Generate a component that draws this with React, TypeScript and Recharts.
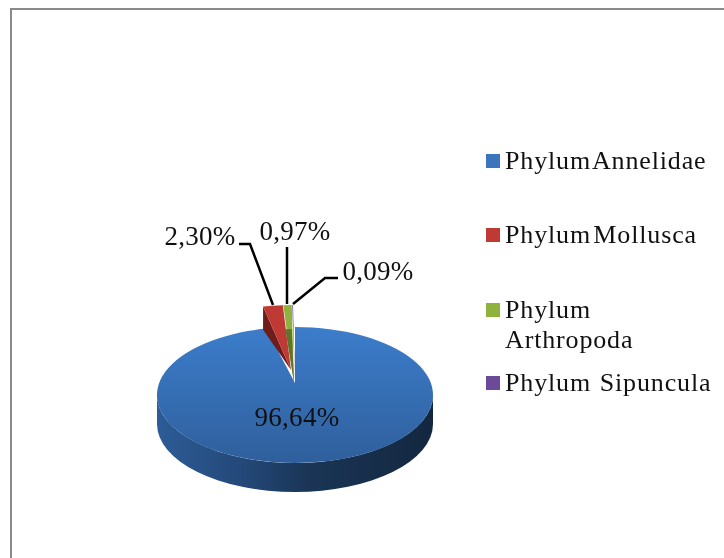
import { PieChart, Pie, Legend } from "recharts";

const categories = ["Phylum Annelidae", "Phylum Mollusca", "Phylum Arthropoda", "Phylum  Sipuncula"];
const shares = [96.64, 2.3, 0.97, 0.09];
const labels = ["96,64%", "2,30%", "0,97%", "0,09%"];
const colors = ["#3a75bd", "#bf3a34", "#8fb13e", "#6c4a97"];

const chartData = categories.map((name, i) => ({ name, value: shares[i], fill: colors[i] }));

// the pie is tilted, so radii are squashed vertically and the apex sits above the centre
const TILT = 68 / 138;
const DEPTH = 29;
const APEX_RISE = 12;
const FONT = '"Liberation Serif", "Times New Roman", serif';

// how far each slice is pulled out of the pie: rim dx/dy, apex dx/dy
const explode = [
  [0, 0, 0, 0],
  [-3, -22, -4, -13],
  [-2.5, -22, -1, 0],
  [-2, -22, 0, 0],
];

// label text centre and leader line, relative to the pie centre
const labelPos = [
  { x: 2, y: 22, line: null },
  { x: -95, y: -159, line: [[-56, -151], [-45, -151], [-22, -90]] },
  { x: 0, y: -164, line: [[-8, -148], [-8, -91]] },
  { x: 83, y: -124, line: [[43, -117], [30, -117], [-2, -91]] },
];

function rimPoint(cx: number, cy: number, r: number, angle: number) {
  const t = ((90 - angle) * Math.PI) / 180;
  return [cx + r * Math.sin(t), cy - r * TILT * Math.cos(t)];
}

function Slice(props: any) {
  const { cx, cy, outerRadius: r, startAngle, endAngle, fill, index } = props;
  const [rimDx, rimDy, apexDx, apexDy] = explode[index];
  const ry = r * TILT;
  const [sx, sy] = rimPoint(cx + rimDx, cy + rimDy, r, startAngle);
  const [ex, ey] = rimPoint(cx + rimDx, cy + rimDy, r, endAngle);
  const ax = cx + apexDx;
  const ay = cy - APEX_RISE + apexDy;
  const large = Math.abs(endAngle - startAngle) > 180 ? 1 : 0;
  const top = `M${ax},${ay} L${sx},${sy} A${r},${ry} 0 ${large} 1 ${ex},${ey} Z`;

  if (index === 0) {
    const side = `M${cx - r},${cy} A${r},${ry} 0 0 0 ${cx + r},${cy} L${cx + r},${cy + DEPTH} A${r},${ry} 0 0 1 ${cx - r},${cy + DEPTH} Z`;
    return (
      <g>
        <defs>
          <linearGradient id="faceBlue" x1="0" y1="0" x2="0" y2="1">
            <stop offset="0" stopColor="#3c7dcb" />
            <stop offset="1" stopColor="#2f5f9c" />
          </linearGradient>
          <linearGradient id="sideBlue" x1="0" y1="0" x2="1" y2="0">
            <stop offset="0" stopColor="#2c5c96" />
            <stop offset="0.3" stopColor="#24497a" />
            <stop offset="0.55" stopColor="#1a3556" />
            <stop offset="1" stopColor="#13273f" />
          </linearGradient>
        </defs>
        <path d={side} fill="url(#sideBlue)" />
        <path d={top} fill="url(#faceBlue)" />
      </g>
    );
  }

  // exploded slices show a dark inner wall on their left edge
  const wall = `M${ax},${ay} L${sx},${sy} L${sx},${sy + DEPTH * 0.8} Z`;
  return (
    <g>
      {index === 1 && <path d={wall} fill="#6e1d1a" />}
      <path d={top} fill={fill} />
      {index === 2 && <path d={`M${ax},${ay} L${sx + 2},${sy + 24} L${ex},${ey + 24} Z`} fill="#5f7527" />}
    </g>
  );
}

function SliceLabel(props: any) {
  const { cx, cy, index } = props;
  const pos = labelPos[index];
  return (
    <g>
      {pos.line && (
        <polyline
          points={pos.line.map(([x, y]) => `${cx + x},${cy + y}`).join(" ")}
          fill="none"
          stroke="#000"
          strokeWidth={2.5}
        />
      )}
      <text
        x={cx + pos.x}
        y={cy + pos.y}
        textAnchor="middle"
        dominantBaseline="central"
        fontFamily={FONT}
        fontSize={27}
        letterSpacing={0.3}
        fill="#111"
      >
        {labels[index]}
      </text>
    </g>
  );
}

const legendGaps = [0, 44, 45, 13];
const legendWordGaps = [-5, -5, 0, -3];

function PieLegend({ payload }: any) {
  return (
    <div style={{ fontFamily: FONT, fontSize: 26, lineHeight: "30px", letterSpacing: 0.85, color: "#111" }}>
      {payload.map((item: any, i: number) => (
        <div key={item.value} style={{ display: "flex", marginTop: legendGaps[i] }}>
          <span
            style={{
              width: 14,
              height: 14,
              marginTop: 8,
              marginRight: 5,
              flex: "none",
              background: item.color,
            }}
          />
          <span style={{ whiteSpace: i === 3 ? "pre" : "pre-wrap", width: 212, wordSpacing: legendWordGaps[i] }}>
            {item.value}
          </span>
        </div>
      ))}
    </div>
  );
}

export default function App() {
  return (
    <div style={{ position: "absolute", left: 0, top: 0, width: 724, height: 558, background: "#fff", overflow: "hidden", filter: "blur(0.6px)" }}>
      <div
        style={{
          position: "absolute",
          left: 10,
          top: 8,
          width: 760,
          height: 600,
          border: "2px solid #8a8a8a",
        }}
      />
      <PieChart
        width={724}
        height={558}
        margin={{ top: 0, right: 0, bottom: 0, left: 0 }}
        style={{ position: "absolute", left: 0, top: 0 }}
      >
        <Pie
          data={chartData}
          dataKey="value"
          nameKey="name"
          cx={295}
          cy={395}
          innerRadius={0}
          outerRadius={138}
          startAngle={90}
          endAngle={-270}
          stroke="none"
          shape={Slice}
          label={SliceLabel}
          labelLine={false}
          isAnimationActive={false}
        />
        <Legend
          layout="vertical"
          align="right"
          verticalAlign="top"
          itemSorter={null}
          content={PieLegend}
          wrapperStyle={{ left: 486, top: 146, width: 238 }}
        />
      </PieChart>
    </div>
  );
}
